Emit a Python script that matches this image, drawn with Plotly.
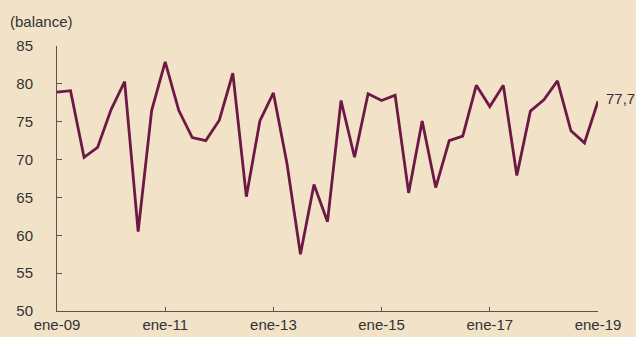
import plotly.graph_objects as go

months = ["ene", "abr", "jul", "oct"]
quarters = [f"{m}-{y:02d}" for y in range(9, 19) for m in months] + ["ene-19"]

balance = [78.9, 79.1, 70.3, 71.6, 76.6, 80.3, 60.5, 76.5, 82.9, 76.5,
           72.9, 72.5, 75.2, 81.4, 65.1, 75.1, 78.8, 69.5, 57.5, 66.7,
           61.8, 77.8, 70.3, 78.7, 77.8, 78.5, 65.6, 75.1, 66.3, 72.5,
           73.1, 79.8, 77.0, 79.8, 67.9, 76.4, 77.9, 80.4, 73.8, 72.2,
           77.7]

tick_labels = ["ene-09", "ene-11", "ene-13", "ene-15", "ene-17", "ene-19"]
y_ticks = [50, 55, 60, 65, 70, 75, 80, 85]

bg = "#f1e2c8"
line_color = "#6c1a45"
text_color = "#333333"
axis_color = "#555555"
font_family = "Liberation Sans, Arial, sans-serif"

x_idx = list(range(len(quarters)))
tick_idx = [quarters.index(t) for t in tick_labels]

fig = go.Figure()
fig.add_trace(go.Scatter(
    x=x_idx, y=balance, mode="lines",
    line=dict(color=line_color, width=2.8),
    hoverinfo="skip", showlegend=False, cliponaxis=False,
))

fig.add_annotation(
    x=x_idx[-1], y=balance[-1], xref="x", yref="y",
    text=f"{balance[-1]:.1f}".replace(".", ","),
    showarrow=False, xanchor="left", yanchor="middle", xshift=6, yshift=3,
    font=dict(size=15, color=text_color, family=font_family),
)
fig.add_annotation(
    x=-49 / 541, y=1.0, xref="paper", yref="paper",
    text="(balance)", showarrow=False, xanchor="left", yanchor="bottom",
    yshift=14,
    font=dict(size=15, color=text_color, family=font_family),
)

fig.update_layout(
    width=636, height=337,
    margin=dict(l=57, r=38, t=46, b=26),
    paper_bgcolor=bg, plot_bgcolor=bg,
    font=dict(family=font_family, size=15, color=text_color),
    xaxis=dict(
        range=[0, len(quarters) - 1],
        tickmode="array", tickvals=tick_idx, ticktext=tick_labels,
        showgrid=False, zeroline=False, automargin=False,
        showline=True, linecolor=axis_color, linewidth=1,
        ticks="inside", ticklen=4, tickcolor=axis_color,
        tickfont=dict(size=15, color=text_color),
    ),
    yaxis=dict(
        range=[50, 85],
        tickmode="array", tickvals=y_ticks,
        showgrid=False, zeroline=False, automargin=False,
        showline=True, linecolor=axis_color, linewidth=1,
        ticks="inside", ticklen=5, tickcolor=axis_color,
        tickfont=dict(size=15, color=text_color),
        ticklabelstandoff=20,
    ),
)

fig.write_html("out.html")
